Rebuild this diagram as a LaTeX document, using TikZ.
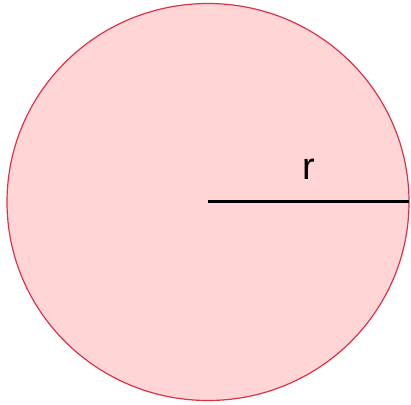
\documentclass[tikz,border=0pt]{standalone}
\usepackage{fontspec}
\setmainfont{Liberation Sans}
\usetikzlibrary{shapes.geometric}
\definecolor{cfill}{RGB}{255,213,213}
\definecolor{cdraw}{RGB}{220,50,70}
\begin{document}
\begin{tikzpicture}[x=1pt,y=-1pt,
  disc/.style={ellipse,draw=cdraw,fill=cfill,line width=1.2pt,minimum width=402pt,minimum height=397pt,inner sep=0pt},
  radius line/.style={line width=3pt,black}]
\useasboundingbox (0,0) rectangle (411,404);
\node[disc] (c) at (208,202) {};
\coordinate (ctr) at (208,201.5);
\coordinate (edge) at (409,201.5);
\draw[radius line] (ctr) -- (edge);
\node[font=\fontsize{38}{40}\selectfont,inner sep=0pt,anchor=base] (r) at (309,179) {r};
\end{tikzpicture}
\end{document}
